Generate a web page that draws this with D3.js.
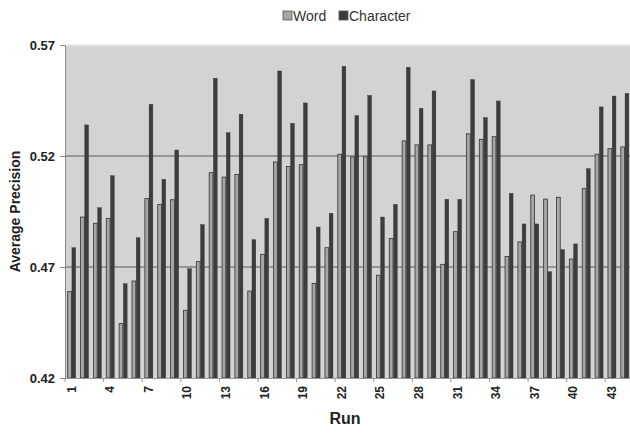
<!DOCTYPE html>
<html>
<head>
<meta charset="utf-8">
<script src="https://cdn.jsdelivr.net/npm/d3@7"></script>
<style>
  body { margin: 0; background: #fff; }
  text { font-family: "Liberation Sans", Arial, sans-serif; }
</style>
</head>
<body>
<div id="container"></div>
<script>
// les données
const runs = d3.range(1, 45);
const series = ["Word", "Character"];
const word = [
  0.459, 0.4925, 0.4897, 0.4918, 0.4445, 0.4637, 0.5008, 0.4982, 0.5003, 0.4505,
  0.4724, 0.5125, 0.5105, 0.5117, 0.4592, 0.4757, 0.5173, 0.5153, 0.5161, 0.4626,
  0.4787, 0.5208, 0.5196, 0.5196, 0.4663, 0.4829, 0.5268, 0.525, 0.525, 0.4712,
  0.4859, 0.530, 0.5275, 0.5287, 0.4747, 0.4813, 0.5024, 0.5006, 0.5014, 0.4736,
  0.5053, 0.5208, 0.5233, 0.5241
];
const character = [
  0.4787, 0.534, 0.4967, 0.5111, 0.4625, 0.4832, 0.5433, 0.5095, 0.5227, 0.4692,
  0.4891, 0.555, 0.5305, 0.5388, 0.4823, 0.4919, 0.5583, 0.5347, 0.5439, 0.488,
  0.4942, 0.5604, 0.5382, 0.5473, 0.4925, 0.4982, 0.560, 0.5415, 0.5493, 0.5005,
  0.5005, 0.5544, 0.5373, 0.5448, 0.5032, 0.4894, 0.4894, 0.4679, 0.4778, 0.4804,
  0.5143, 0.5421, 0.547, 0.5482
];
const yTicks = [0.42, 0.47, 0.52, 0.57];
const gridValues = [0.47, 0.52];
const xLabels = runs.filter(r => (r - 1) % 3 === 0);

const width = 630;
const height = 435;
const plot = {left: 65, right: 631, top: 45, bottom: 378};
const colors = {Word: "#a6a6a6", Character: "#3d3d3d"};

// une table pour les barres
const table = runs.map((r, i) => ({run: r, Word: word[i], Character: character[i]}));

const x = d3.scaleBand()
    .domain(runs)
    .range([plot.left, plot.right]);

const xs = d3.scaleBand()
    .domain(series)
    .range([x.bandwidth() * 0.17, x.bandwidth() * 0.83]);

const y = d3.scaleLinear()
    .domain([0.42, 0.57])
    .range([plot.bottom, plot.top]);

const svg = d3.create("svg")
    .attr("width", width)
    .attr("height", height)
    .attr("viewBox", [0, 0, width, height]);

// fond du graphique
svg.append("rect")
    .attr("x", plot.left)
    .attr("y", plot.top)
    .attr("width", plot.right - plot.left)
    .attr("height", plot.bottom - plot.top)
    .attr("fill", "#d3d3d3");

svg.append("line")
    .attr("x1", plot.left).attr("x2", plot.right)
    .attr("y1", plot.top + 0.5).attr("y2", plot.top + 0.5)
    .attr("stroke", "#e2e2e2")
    .attr("stroke-width", 2);

// lignes de grille
svg.append("g")
    .selectAll("line")
    .data(gridValues)
    .join("line")
    .attr("x1", plot.left)
    .attr("x2", plot.right)
    .attr("y1", d => y(d))
    .attr("y2", d => y(d))
    .attr("stroke", "#5a5a5a")
    .attr("stroke-width", 1.2);

// les barres
const groups = svg.append("g")
    .selectAll("g")
    .data(table)
    .join("g")
    .attr("transform", d => `translate(${x(d.run)},0)`);

groups.selectAll("rect")
    .data(d => series.map(s => ({key: s, value: d[s]})))
    .join("rect")
    .attr("x", d => xs(d.key) + 0.5)
    .attr("y", d => y(d.value))
    .attr("width", xs.bandwidth() - 0.5)
    .attr("height", d => y(0.42) - y(d.value))
    .attr("fill", d => colors[d.key])
    .attr("stroke", "#333")
    .attr("stroke-width", d => d.key === "Word" ? 0.8 : 0.4);

// axe y
const yAxis = svg.append("g")
    .attr("transform", `translate(${plot.left},0)`)
    .call(d3.axisLeft(y).tickValues(yTicks).tickFormat(d3.format(".2f")).tickSize(5).tickSizeOuter(0));
yAxis.select(".domain").attr("stroke", "#888");
yAxis.selectAll(".tick line").attr("stroke", "#888");
yAxis.selectAll(".tick text")
    .attr("font-size", 13)
    .attr("font-weight", "bold")
    .attr("fill", "#222")
    .attr("x", -10);

// axe x
const xAxis = svg.append("g")
    .attr("transform", `translate(0,${plot.bottom})`)
    .call(d3.axisBottom(x).tickValues(xLabels).tickSize(0).tickSizeOuter(0));
xAxis.select(".domain").attr("stroke", "#999");
xAxis.selectAll(".tick text")
    .attr("font-size", 12)
    .attr("font-weight", "bold")
    .attr("fill", "#222")
    .attr("transform", "rotate(-90)")
    .attr("text-anchor", "end")
    .attr("dy", "0.35em")
    .attr("x", -8)
    .attr("y", 0);

// petites graduations entre les catégories
svg.append("g")
    .selectAll("line")
    .data(xLabels)
    .join("line")
    .attr("x1", d => x(d))
    .attr("x2", d => x(d))
    .attr("y1", plot.bottom)
    .attr("y2", plot.bottom + 4)
    .attr("stroke", "#999");

// titres des axes
svg.append("text")
    .attr("transform", `translate(20,${(plot.top + plot.bottom) / 2}) rotate(-90)`)
    .attr("text-anchor", "middle")
    .attr("font-size", 14)
    .attr("font-weight", "bold")
    .attr("fill", "#222")
    .text("Average Precision");

svg.append("text")
    .attr("x", 345)
    .attr("y", 424)
    .attr("text-anchor", "middle")
    .attr("font-size", 16)
    .attr("font-weight", "bold")
    .attr("fill", "#222")
    .text("Run");

// légende
const legend = svg.append("g")
    .attr("transform", "translate(283,16)");
const legendPos = [0, 56];
legend.selectAll("rect")
    .data(series)
    .join("rect")
    .attr("x", (d, i) => legendPos[i])
    .attr("y", -5)
    .attr("width", 9)
    .attr("height", 9)
    .attr("fill", d => colors[d])
    .attr("stroke", "#555")
    .attr("stroke-width", 0.8);
legend.selectAll("text")
    .data(series)
    .join("text")
    .attr("x", (d, i) => legendPos[i] + 10)
    .attr("y", 0)
    .attr("dy", "0.35em")
    .attr("font-size", 14)
    .attr("fill", "#333")
    .text(d => d);

d3.select("#container").node().append(svg.node());
</script>
</body>
</html>
